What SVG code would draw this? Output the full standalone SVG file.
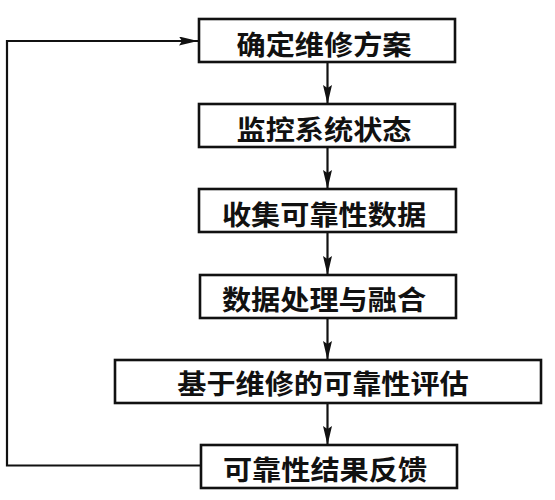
<svg xmlns="http://www.w3.org/2000/svg" width="555" height="500" viewBox="0 0 555 500">
<style>
.box{fill:#fff;stroke:#111;stroke-width:2.6}
.lbl{font-family:"Noto Sans CJK SC","Noto Sans",sans-serif;font-size:27px;font-weight:700;fill:#111;text-anchor:middle;dominant-baseline:central}
.con{fill:none;stroke:#111;stroke-width:2.2}
</style>
<defs>
<marker id="arr" viewBox="0 0 19 9" refX="19" refY="4.5" markerWidth="19" markerHeight="9" markerUnits="userSpaceOnUse" orient="auto">
<path d="M0,0 L19,4.5 L0,9 L3,4.5 Z" fill="#111"/>
</marker>
</defs>
<rect width="555" height="500" fill="#fff"/>
<g id="connectors">
<line class="con" x1="327.5" y1="62" x2="327.5" y2="104" marker-end="url(#arr)"/>
<line class="con" x1="327.5" y1="147" x2="327.5" y2="189" marker-end="url(#arr)"/>
<line class="con" x1="327.5" y1="232" x2="327.5" y2="275" marker-end="url(#arr)"/>
<line class="con" x1="327.5" y1="318" x2="327.5" y2="360" marker-end="url(#arr)"/>
<line class="con" x1="327.5" y1="403" x2="327.5" y2="445" marker-end="url(#arr)"/>
<polyline class="con" points="201,465.5 7,465.5 7,41 198,41" marker-end="url(#arr)"/>
</g>
<g id="n1"><rect class="box" x="199" y="19" width="256" height="43"/><text class="lbl" transform="translate(324,42.5) scale(1.08,1)">确定维修方案</text></g>
<g id="n2"><rect class="box" x="199" y="104" width="256" height="43"/><text class="lbl" transform="translate(324,127.5) scale(1.08,1)">监控系统状态</text></g>
<g id="n3"><rect class="box" x="199" y="189" width="257" height="43"/><text class="lbl" transform="translate(324,212.5) scale(1.08,1)">收集可靠性数据</text></g>
<g id="n4"><rect class="box" x="200" y="275" width="256" height="43"/><text class="lbl" transform="translate(324,298) scale(1.08,1)">数据处理与融合</text></g>
<g id="n5"><rect class="box" x="115" y="360" width="426" height="43"/><text class="lbl" transform="translate(323,382) scale(1.08,1)">基于维修的可靠性评估</text></g>
<g id="n6"><rect class="box" x="201" y="445" width="256" height="43"/><text class="lbl" transform="translate(325,467.5) scale(1.08,1)">可靠性结果反馈</text></g>
</svg>
